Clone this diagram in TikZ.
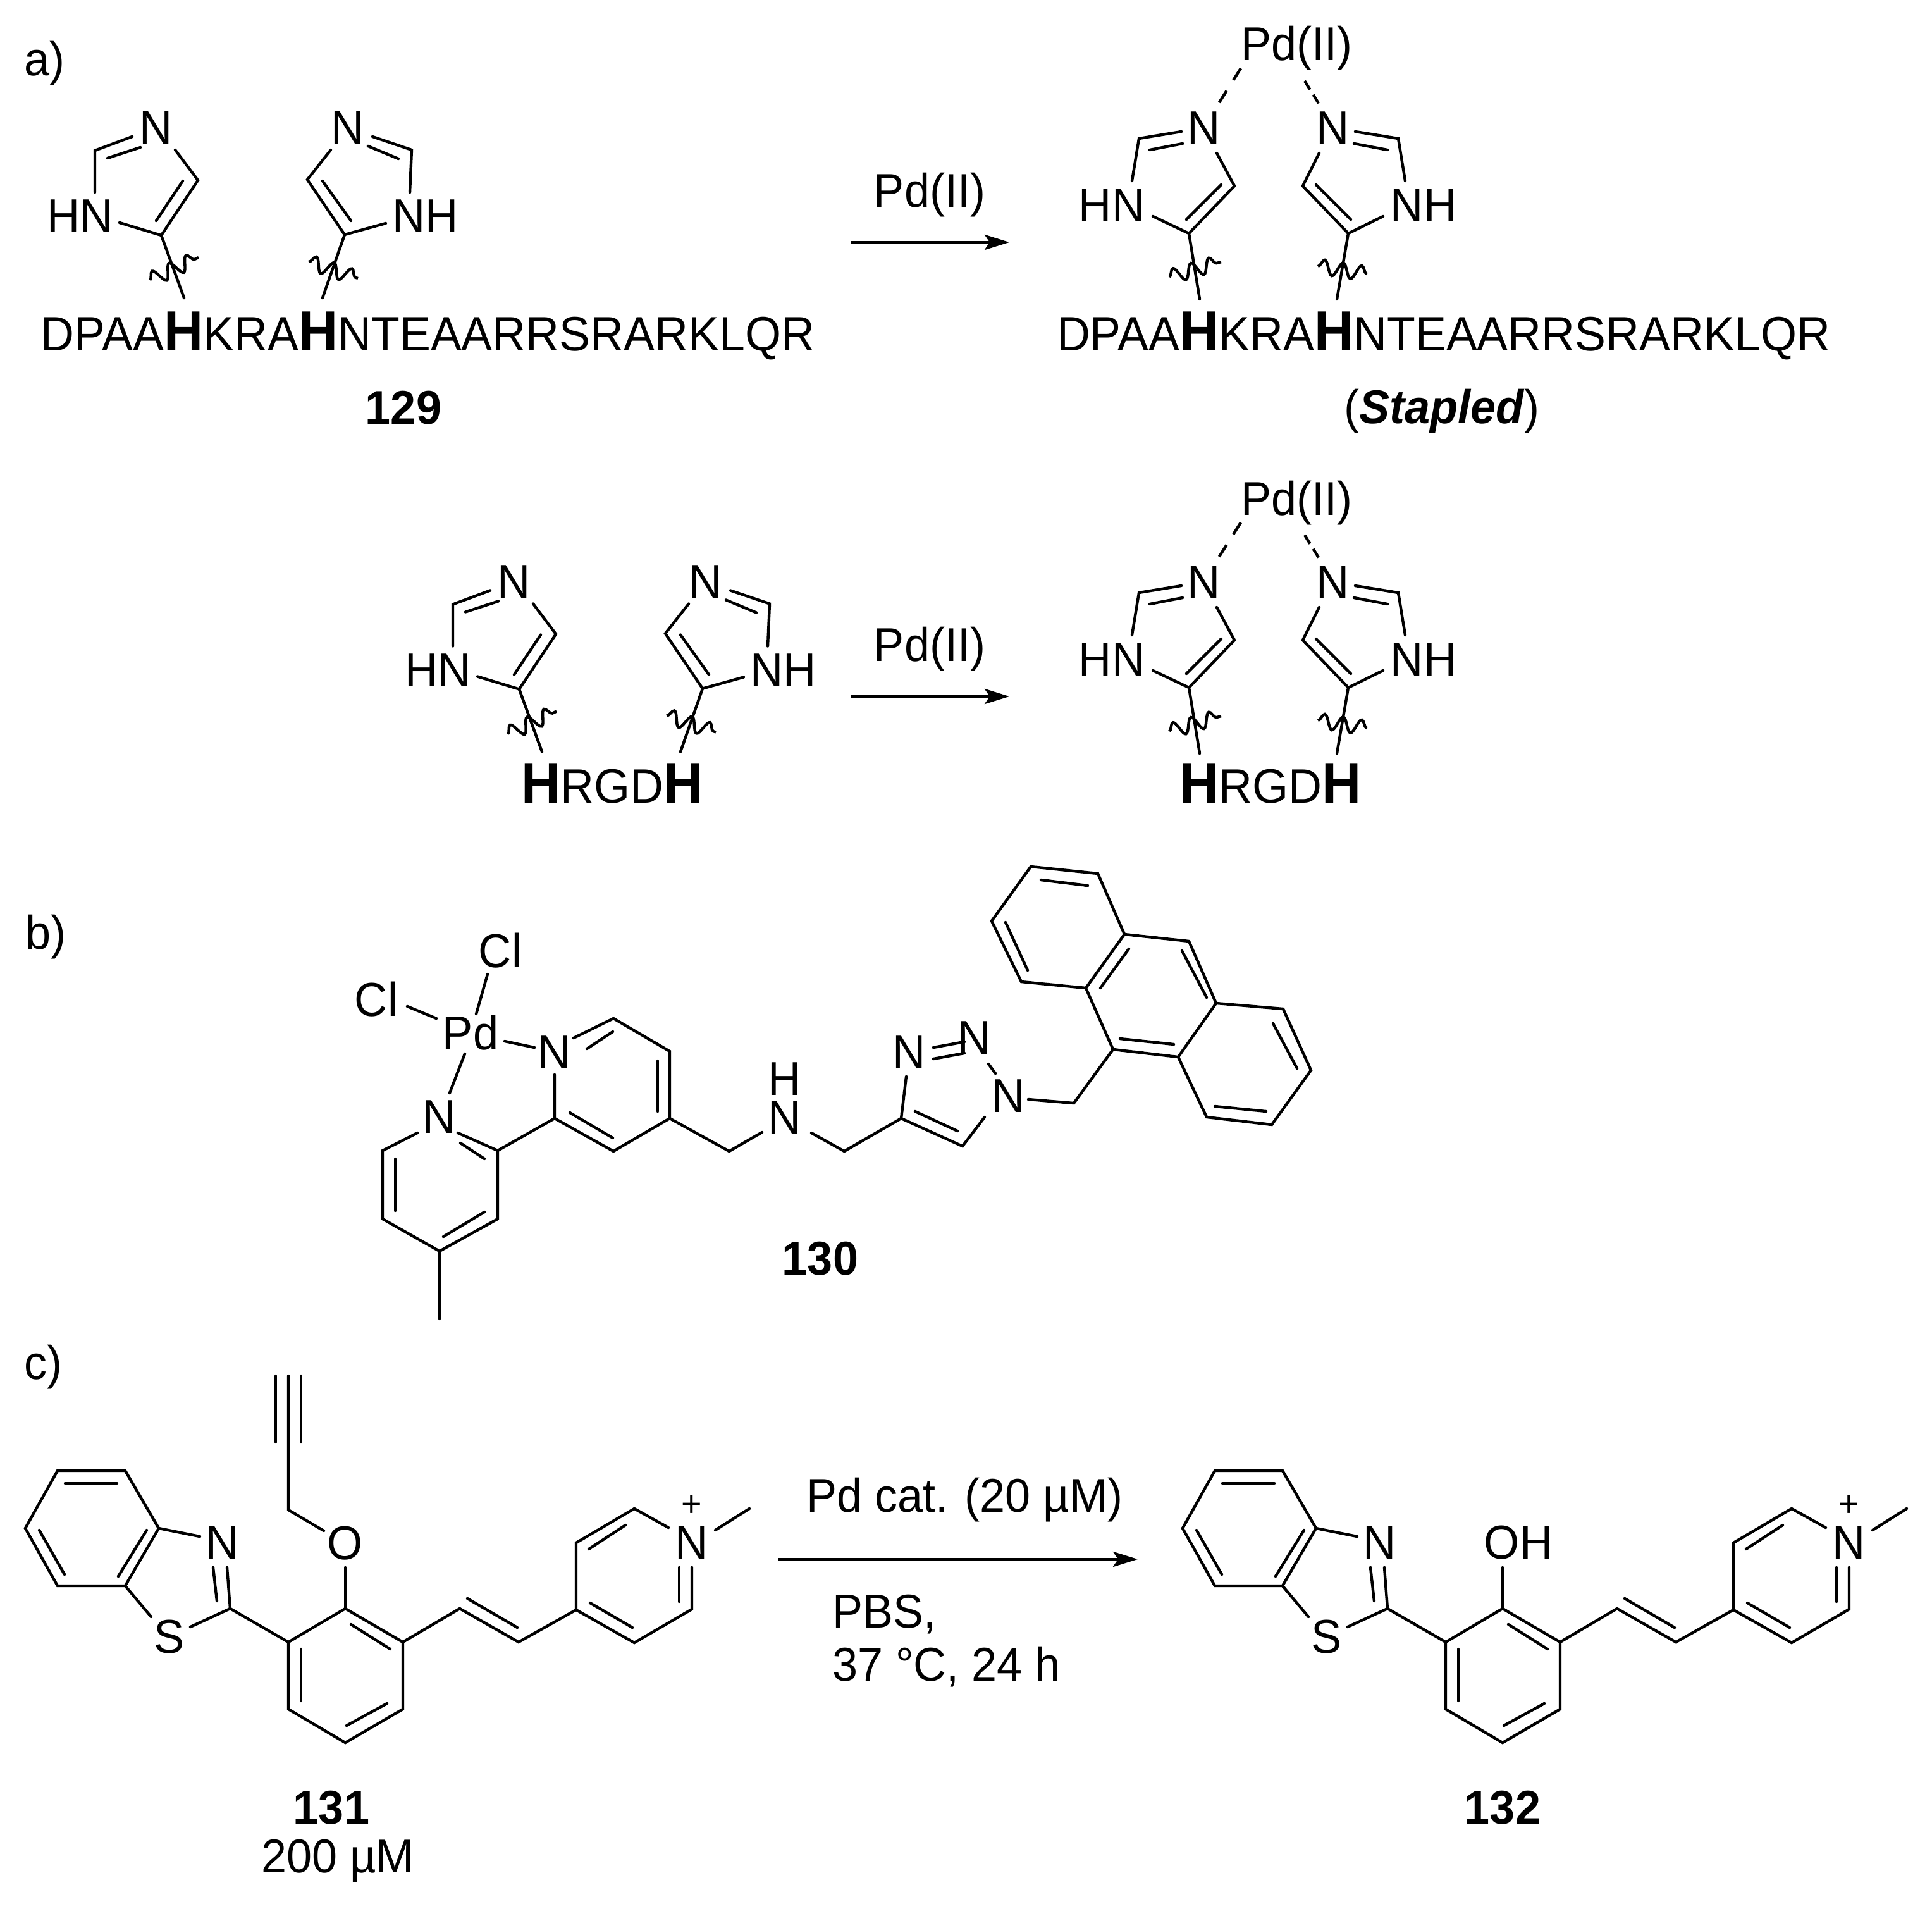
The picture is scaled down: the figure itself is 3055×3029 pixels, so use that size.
\documentclass[tikz,border=0pt]{standalone}
\usepackage{fontspec}
\setmainfont[FakeStretch=0.96]{Liberation Sans}
\usetikzlibrary{arrows.meta,decorations.pathmorphing}
\newcommand\fsz{\fontsize{18.75}{21}\selectfont}
\newcommand\pepsz{\fontsize{19.1}{22}\selectfont}
\newcommand\atomsz{\fontsize{18.8}{20}\selectfont}
\newcommand\BH{{\fontsize{22.4}{24}\selectfont\bfseries H}}
\tikzset{
 bond/.style={line width=1.1pt,line cap=round,line join=miter,black},
 wave/.style={line width=1.1pt,black,decorate,decoration={snake,segment length=7.4pt,amplitude=2.9pt}},
 dashL/.style={line width=1.1pt,black,dash pattern=on 5.5pt off 5pt},
 dashR/.style={line width=1.1pt,black,dash pattern=on 4pt off 2.4pt},
 rxn/.style={line width=1.1pt,black,-{Stealth[length=9.75pt,width=6pt,inset=2pt]}},
 atom/.style={inner sep=0pt,outer sep=0pt,anchor=center,font=\atomsz},
 lab/.style={inner sep=0pt,outer sep=0pt,anchor=base,font=\fsz},
 labw/.style={inner sep=0pt,outer sep=0pt,anchor=base west,font=\fsz},
 pep/.style={inner sep=0pt,outer sep=0pt,anchor=base west,font=\pepsz},
 plusn/.style={inner sep=0pt,outer sep=0pt,anchor=center,font=\fontsize{14.5}{16}\selectfont},
}
% unbound histidine pair
\newcommand\hispair[1]{%
 \node[atom] (#1NL) at (247,202) {N};
 \node[atom] (#1HNL) at (127,342) {HN};
 \draw[bond] (209,216)--(150,238)--(150,304);
 \draw[bond] (222,233)--(170,250);
 \draw[bond] (277,237)--(313,285)--(255,372)--(189,352);
 \draw[bond] (289,286)--(247,349);
 \draw[bond] (255,372)--(291,471);
 \draw[wave] (237,443)--(314,407);
 \node[atom] (#1NR) at (550,202) {N};
 \node[atom] (#1HNR) at (673,342) {NH};
 \draw[bond] (589,216)--(651,237)--(648,304);
 \draw[bond] (582,231)--(630,251);
 \draw[bond] (523,237)--(486,284)--(545,371)--(610,353);
 \draw[bond] (510,286)--(555,349);
 \draw[bond] (545,371)--(510,471);
 \draw[wave] (488,414)--(566,440);
}
% Pd-bound histidine pair
\newcommand\pdpair[1]{%
 \node[lab] (#1Pd) at (2050,96) {Pd(II)};
 \draw[dashL] (1962,108)--(1926,165);
 \draw[dashR] (2063,128)--(2086,165);
 \node[atom] (#1NL) at (1904,203) {N};
 \node[atom] (#1HNL) at (1758,325) {HN};
 \draw[bond] (1868,208)--(1801,219)--(1790,286);
 \draw[bond] (1870,227)--(1818,237);
 \draw[bond] (1924,242)--(1952,294)--(1880,369)--(1823,342);
 \draw[bond] (1931,292)--(1876,347);
 \draw[bond] (1880,369)--(1897,473);
 \draw[wave] (1849,438)--(1931,414);
 \node[atom] (#1NR) at (2108,203) {N};
 \node[atom] (#1HNR) at (2251,325) {NH};
 \draw[bond] (2143,208)--(2211,219)--(2222,286);
 \draw[bond] (2141,227)--(2194,237);
 \draw[bond] (2086,242)--(2060,294)--(2132,369)--(2187,342);
 \draw[bond] (2081,292)--(2136,347);
 \draw[bond] (2132,369)--(2114,473);
 \draw[wave] (2084,421)--(2162,433);
}
% benzothiazole-phenyl-vinyl-pyridinium skeleton
\newcommand\skel[1]{%
 \draw[bond] (91,2325)--(198,2325)--(251,2416)--(198,2507)--(91,2507)--(40,2416)--cycle;
 \draw[bond] (103,2345)--(185,2345);
 \draw[bond] (232,2419)--(187,2492);
 \draw[bond] (62,2419)--(102,2489);
 \node[atom] (#1N) at (352,2439) {N};
 \node[atom] (#1S) at (268,2588) {S};
 \draw[bond] (251,2416)--(316,2429);
 \draw[bond] (198,2507)--(239,2556);
 \draw[bond] (301,2572)--(364,2543)--(359,2478);
 \draw[bond] (343,2531)--(337,2478);
 \draw[bond] (364,2543)--(456,2596);
 \draw[bond] (456,2596)--(546,2543)--(637,2596)--(637,2702)--(546,2755)--(456,2702)--cycle;
 \draw[bond] (555,2568)--(617,2607);
 \draw[bond] (476,2607)--(476,2689);
 \draw[bond] (612,2693)--(548,2728);
 \draw[bond] (546,2478)--(546,2543);
 \draw[bond] (637,2596)--(727,2543)--(820,2596)--(911,2545);
 \draw[bond] (739,2527)--(818,2573);
 \draw[bond] (911,2545)--(911,2439)--(1003,2385)--(1057,2415);
 \draw[bond] (911,2545)--(1003,2597)--(1094,2544)--(1094,2478);
 \draw[bond] (931,2449)--(989,2411);
 \draw[bond] (1074,2478)--(1074,2532);
 \draw[bond] (1000,2573)--(933,2534);
 \node[atom] (#1Np) at (1094,2439) {N};
 \node[plusn] (#1plus) at (1094,2381) {+};
 \draw[bond] (1131,2419)--(1185,2385);
}
\begin{document}
\begin{tikzpicture}[x=0.25pt,y=-0.25pt]
\useasboundingbox (0,0) rectangle (3055,3029);
\fill[white] (0,0) rectangle (3055,3029);
% panel labels
\node[labw] (pa) at (38,120) {a)};
\node[labw] (pb) at (40,1500) {b)};
\node[labw] (pc) at (38,2180) {c)};
% --- a) top
\hispair{A}
\node[pep] (pepA) at (65,555) {DPAA\BH KRA\BH NTEAARRSRARKLQR};
\node[lab,font=\fsz\bfseries] (c129) at (638,670) {129};
\coordinate (a1s) at (1346,383); \coordinate (a1e) at (1596,383);
\draw[rxn] (a1s)--(a1e);
\node[lab] (r1) at (1470,327) {Pd(II)};
\pdpair{B}
\node[pep] (pepB) at (1671,555) {DPAA\BH KRA\BH NTEAARRSRARKLQR};
\node[lab] (stap) at (2280,669) {(\textit{\textbf{Stapled}})};
% --- a) bottom
\begin{scope}[shift={(566,717.5)}]
 \hispair{C}
\end{scope}
\node[pep] (pepC) at (824,1269) {\BH RGD\BH};
\coordinate (a2s) at (1346,1101); \coordinate (a2e) at (1596,1101);
\draw[rxn] (a2s)--(a2e);
\node[lab] (r2) at (1470,1045) {Pd(II)};
\begin{scope}[shift={(0,718)}]
 \pdpair{D}
\end{scope}
\node[pep] (pepD) at (1865,1269) {\BH RGD\BH};
% --- b)
\node[atom] (ClT) at (791,1503) {Cl};
\node[atom] (ClL) at (595,1580) {Cl};
\node[atom] (Pd) at (744,1633) {Pd};
\node[atom] (N1) at (877,1664) {N};
\node[atom] (N2) at (695,1766) {N};
\draw[bond] (771,1540)--(753,1603);
\draw[bond] (644,1591)--(690,1610);
\draw[bond] (798,1646)--(845,1656);
\draw[bond] (735,1666)--(711,1728);
\draw[bond] (907,1641)--(970,1610)--(1059,1662)--(1059,1768)--(970,1820)--(877,1768)--(877,1699);
\draw[bond] (928,1658)--(969,1631);
\draw[bond] (1040,1677)--(1040,1757);
\draw[bond] (969,1799)--(901,1759);
\draw[bond] (877,1768)--(787,1819);
\draw[bond] (724,1791)--(787,1819)--(787,1927)--(695,1978)--(605,1927)--(605,1819)--(660,1791);
\draw[bond] (728,1807)--(766,1832);
\draw[bond] (766,1916)--(701,1955);
\draw[bond] (625,1914)--(625,1832);
\draw[bond] (695,1978)--(695,2085);
\node[atom,align=center,font=\fontsize{18.8}{15.25pt}\selectfont] (NH) at (1241,1736) {H\\N};
\draw[bond] (1059,1768)--(1153,1820)--(1205,1790);
\draw[bond] (1283,1791)--(1335,1820)--(1425,1768);
\node[atom] (T3) at (1438,1664) {N};
\node[atom] (T2) at (1541,1641) {N};
\node[atom] (T1) at (1595,1733) {N};
\draw[bond] (1433,1702)--(1425,1768)--(1522,1812)--(1557,1766);
\draw[bond] (1514,1788)--(1447,1757);
\draw[bond] (1476,1656)--(1525,1647);
\draw[bond] (1476,1674)--(1525,1665);
\draw[bond] (1563,1682)--(1574,1697);
\draw[bond] (1626,1738)--(1698,1744)--(1760,1659);
\draw[bond] (1760,1659)--(1863,1671)--(1923,1586)--(1880,1488)--(1778,1477)--(1717,1562)--cycle;
\draw[bond] (1778,1477)--(1736,1381)--(1630,1370)--(1568,1456)--(1615,1552)--(1717,1562);
\draw[bond] (1923,1586)--(2029,1595)--(2073,1692)--(2011,1778)--(1908,1766)--(1863,1671);
\draw[bond] (1771,1642)--(1856,1651);
\draw[bond] (1785,1500)--(1740,1562);
\draw[bond] (1869,1503)--(1908,1577);
\draw[bond] (1646,1391)--(1720,1400);
\draw[bond] (1590,1458)--(1625,1534);
\draw[bond] (2013,1618)--(2051,1689);
\draw[bond] (1921,1749)--(2002,1757);
\node[lab,font=\fsz\bfseries] (c130) at (1297,2015) {130};
% --- c)
\skel{E}
\node[atom] (EO) at (546,2440) {O};
\draw[bond] (512,2420)--(456,2387)--(456,2175);
\draw[bond] (436,2280)--(436,2175);
\draw[bond] (476,2280)--(476,2175);
\node[lab,font=\fsz\bfseries] (c131) at (524,2883) {131};
\node[lab] (conc) at (534,2960) {200 µM};
\coordinate (a3s) at (1230,2465); \coordinate (a3e) at (1799,2465);
\draw[rxn] (a3s)--(a3e);
\node[labw] (r3) at (1275,2390) {Pd cat. (20 µM)};
\node[labw] (r4) at (1316,2573) {PBS,};
\node[labw] (r5) at (1316,2657) {37 °C, 24 h};
\begin{scope}[shift={(1830,0)}]
 \skel{F}
\end{scope}
\node[atom] (FOH) at (2401,2439) {OH};
\node[lab,font=\fsz\bfseries] (c132) at (2376,2883) {132};
\end{tikzpicture}
\end{document}
